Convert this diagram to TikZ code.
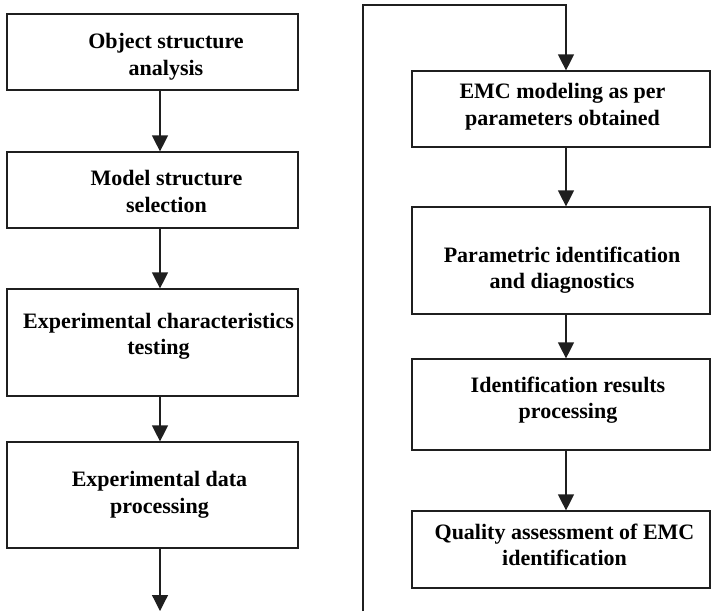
\documentclass[tikz,border=0pt]{standalone}
\usepackage{fontspec}
\setmainfont{Liberation Serif}
\usetikzlibrary{arrows.meta}
\begin{document}
\begin{tikzpicture}[x=1pt,y=-1pt,
  box/.style={draw=black!88, line width=1.2pt, rectangle, inner sep=0pt},
  lbl/.style={align=center, inner sep=0pt, font=\fontsize{22}{26.5}\selectfont\bfseries},
  flow/.style={draw=black!88, line width=1.2pt, -{Triangle[width=16pt,length=16pt]}},
  wire/.style={draw=black!88, line width=1.2pt}]
\useasboundingbox (0,0) rectangle (711,611);

% column positions of the connectors
\coordinate (lcol) at (160,0);
\coordinate (rcol) at (566,0);

% left column of steps
\node[box, minimum width=291pt, minimum height=76pt]  (b1) at (152.5,52) {};
\node[box, minimum width=291pt, minimum height=76pt]  (b2) at (152.5,190) {};
\node[box, minimum width=291pt, minimum height=107pt] (b3) at (152.5,342.5) {};
\node[box, minimum width=291pt, minimum height=106pt] (b4) at (152.5,495) {};

\node[lbl] (t1) at (166,56.5)  {Object structure\\analysis};
\node[lbl] (t2) at (166.5,191.5) {Model structure\\selection};
\node[lbl] (t3) at (158.5,336.5) {Experimental characteristics\\testing};
\node[lbl] (t4) at (159.5,495) {Experimental data\\processing};

% right column of steps
\node[box, minimum width=298pt, minimum height=76pt]  (b5) at (561,109) {};
\node[box, minimum width=298pt, minimum height=107pt] (b6) at (561,260.5) {};
\node[box, minimum width=298pt, minimum height=91pt]  (b7) at (561,404.5) {};
\node[box, minimum width=298pt, minimum height=77pt]  (b8) at (561,549.5) {};

\node[lbl] (t5) at (562.5,106.5) {EMC modeling as per\\parameters obtained};
\node[lbl] (t6) at (562,270) {Parametric identification\\and diagnostics};
\node[lbl] (t7) at (568,400) {Identification results\\processing};
\node[lbl] (t8) at (564.5,545) {Quality assessment of EMC\\identification};

% connectors
\draw[flow] (b1.south -| lcol) -- (b2.north -| lcol);
\draw[flow] (b2.south -| lcol) -- (b3.north -| lcol);
\draw[flow] (b3.south -| lcol) -- (b4.north -| lcol);
\coordinate (lout) at (160,611);
\draw[flow] (b4.south -| lcol) -- (lout);

\coordinate (rin) at (363,611);
\coordinate (rtop) at (363,5);
\draw[flow] (rin) -- (rtop) -| (b5.north -| rcol);
\draw[flow] (b5.south -| rcol) -- (b6.north -| rcol);
\draw[flow] (b6.south -| rcol) -- (b7.north -| rcol);
\draw[flow] (b7.south -| rcol) -- (b8.north -| rcol);
\end{tikzpicture}
\end{document}
